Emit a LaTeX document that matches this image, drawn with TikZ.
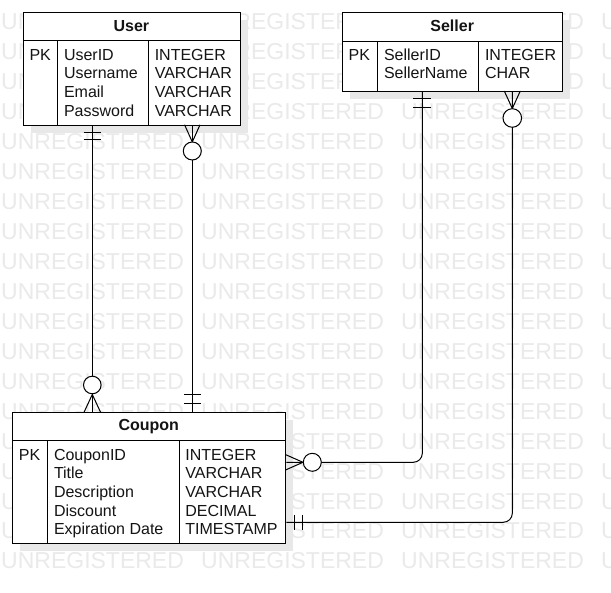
\documentclass[tikz,border=0pt]{standalone}
\usepackage{fontspec}
\setmainfont{Liberation Sans}
\definecolor{wmgray}{RGB}{234,234,234}
\definecolor{shadowgray}{RGB}{232,232,232}
\definecolor{txt}{RGB}{20,20,20}
\begin{document}
\begin{tikzpicture}[x=1pt,y=-1pt,
  tbl/.style={draw, line width=1pt, fill=white, rectangle, inner sep=0pt, anchor=north west},
  hdr/.style={font=\fontsize{16}{18.6}\selectfont\bfseries, text=txt, inner sep=0pt},
  fld/.style={font=\fontsize{16}{18.6}\selectfont, text=txt, inner sep=0pt, anchor=base west},
  wm/.style={font=\fontsize{23}{26}\selectfont, text=wmgray, inner sep=0pt, anchor=base west},
  conn/.style={line width=1pt, draw=black},
  sep/.style={line width=1pt},
  shd/.style={fill=shadowgray}]
\useasboundingbox (0,0) rectangle (611,593);
\fill[white] (0,0) rectangle (611,593);
% watermark
\begin{scope}
\clip (0,0) rectangle (611,593);
\foreach \k in {0,...,18}{
  \foreach \j in {0,...,3}{
    \node[wm] (wm-\k-\j) at (1+200*\j, 29.5+29.97*\k) {UNREGISTERED};
  }
}
\end{scope}
% tables
\fill[shd] (30.5,20.3) rectangle (248,133);
\fill[shd] (350,20.3) rectangle (570.3,99.5);
\fill[shd] (20.3,420.3) rectangle (293.3,551.5);
\node[tbl, minimum width=217.5pt, minimum height=112.5pt] (user) at (22.6,12.3) {};
\node[tbl, minimum width=220.2pt, minimum height=78.8pt] (seller) at (342.1,12.3) {};
\node[tbl, minimum width=273pt, minimum height=131pt] (coupon) at (12.3,412.3) {};
% User internals
\draw[sep] (user.west |- 0,41) -- (user.east |- 0,41);
\draw[sep] (57.7,41) -- (57.7,0 |- user.south);
\draw[sep] (148.3,41) -- (148.3,0 |- user.south);
\node[hdr] (userh) at (131.4,26.2) {User};
\node[fld] (upk) at (29.3,60.3) {PK};
\foreach \n/\f/\t [count=\i from 0] in {u1/UserID/INTEGER,u2/Username/VARCHAR,u3/Email/VARCHAR,u4/Password/VARCHAR}{
  \node[fld] (\n f) at (63.8,60.3+18.6*\i) {\f};
  \node[fld] (\n t) at (154.6,60.3+18.6*\i) {\t};
}
% Seller internals
\draw[sep] (seller.west |- 0,41.3) -- (seller.east |- 0,41.3);
\draw[sep] (377.7,41.3) -- (377.7,0 |- seller.south);
\draw[sep] (478.7,41.3) -- (478.7,0 |- seller.south);
\node[hdr] (sellerh) at (452.2,26.2) {Seller};
\node[fld] (spk) at (348.5,60.3) {PK};
\foreach \n/\f/\t [count=\i from 0] in {s1/SellerID/INTEGER,s2/SellerName/CHAR}{
  \node[fld] (\n f) at (383.8,60.3+18.6*\i) {\f};
  \node[fld] (\n t) at (484.8,60.3+18.6*\i) {\t};
}
% Coupon internals
\draw[sep] (coupon.west |- 0,440.7) -- (coupon.east |- 0,440.7);
\draw[sep] (47.7,440.7) -- (47.7,0 |- coupon.south);
\draw[sep] (179.3,440.7) -- (179.3,0 |- coupon.south);
\node[hdr] (couponh) at (148.8,426.2) {Coupon};
\node[fld] (cpk) at (18.8,460.3) {PK};
\foreach \n/\f/\t [count=\i from 0] in {c1/CouponID/INTEGER,c2/Title/VARCHAR,c3/Description/VARCHAR,c4/Discount/DECIMAL,c5/Expiration Date/TIMESTAMP}{
  \node[fld] (\n f) at (53.8,460.3+18.6*\i) {\f};
  \node[fld] (\n t) at (185.2,460.3+18.6*\i) {\t};
}
% connector 1: User (one) -- Coupon (zero or many)
\draw[conn] (user.south -| 92.3,0) -- (coupon.north -| 92.3,0);
\draw[conn] (83.6,132.7) -- (101,132.7);
\draw[conn] (83.6,140) -- (101,140);
\draw[conn] (84,412.3) -- (92.3,394.5) -- (100.6,412.3);
\draw[conn, fill=white] (92.3,385) circle[radius=8.8pt];
% connector 2: User (zero or many) -- Coupon (one)
\draw[conn] (user.south -| 192.3,0) -- (coupon.north -| 192.3,0);
\draw[conn] (184.6,124.8) -- (192.3,142) -- (200,124.8);
\draw[conn, fill=white] (192.3,151) circle[radius=9pt];
\draw[conn] (184.3,394.3) -- (201,394.3);
\draw[conn] (184.3,403.3) -- (201,403.3);
% connector 3: Seller (one) -- Coupon (zero or many)
\draw[conn, rounded corners=9pt] (seller.south -| 422.3,0) |- (coupon.east |- 0,462.3);
\draw[conn] (413.4,99) -- (431,99);
\draw[conn] (413.4,108) -- (431,108);
\draw[conn] (285.3,454.5) -- (303,462.3) -- (285.3,470.1);
\draw[conn, fill=white] (312.3,462.3) circle[radius=9pt];
% connector 4: Seller (zero or many) -- Coupon (one)
\draw[conn, rounded corners=9pt] (seller.south -| 512.3,0) |- (coupon.east |- 0,522.3);
\draw[conn] (504.3,91) -- (512.3,108.5) -- (520.3,91);
\draw[conn, fill=white] (512.3,118) circle[radius=9.3pt];
\draw[conn] (294,514.8) -- (294,529.8);
\draw[conn] (302.3,514.8) -- (302.3,529.8);
\end{tikzpicture}
\end{document}
